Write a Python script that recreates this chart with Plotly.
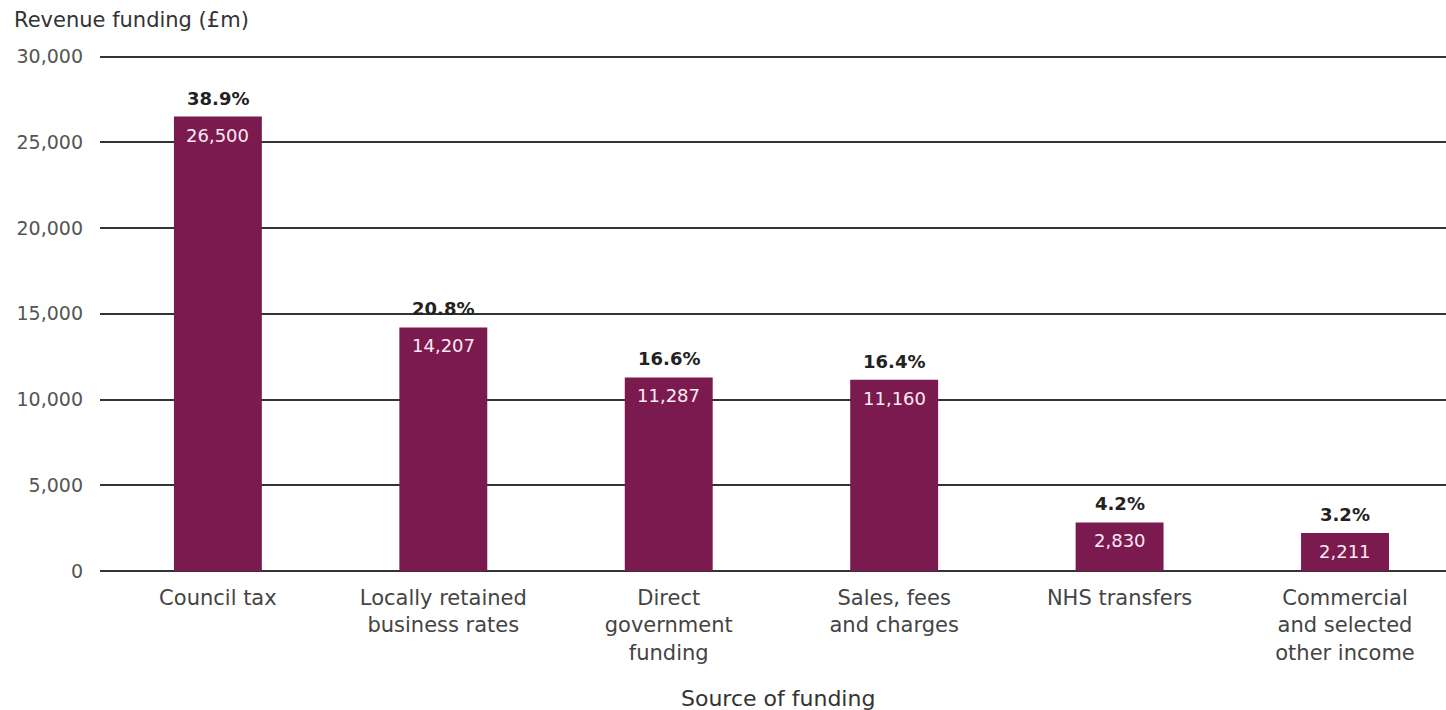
import plotly.graph_objects as go

categories = ["Council tax", "Locally retained<br>business rates", "Direct<br>government<br>funding",
              "Sales, fees<br>and charges", "NHS transfers", "Commercial<br>and selected<br>other income"]
values = [26500, 14207, 11287, 11160, 2830, 2211]
value_labels = ["26,500", "14,207", "11,287", "11,160", "2,830", "2,211"]
pct_labels = ["38.9%", "20.8%", "16.6%", "16.4%", "4.2%", "3.2%"]
y_ticks = [0, 5000, 10000, 15000, 20000, 25000, 30000]
y_tick_text = ["0", "5,000", "10,000", "15,000", "20,000", "25,000", "30,000"]

FONT = "DejaVu Sans, Verdana, sans-serif"
BAR = "#7b1a4e"

fig = go.Figure()
fig.add_trace(go.Bar(x=categories, y=values, marker_color=BAR, marker_line_width=0,
                     width=0.39, hoverinfo="skip"))

ann = []
for c, v, vl, pl in zip(categories, values, value_labels, pct_labels):
    ann.append(dict(x=c, y=v, text="<b>" + pl + "</b>", showarrow=False, yanchor="bottom", yshift=6,
                    font=dict(family=FONT, size=18, color="#222222"), xref="x", yref="y"))
    ann.append(dict(x=c, y=v, text=vl, showarrow=False, yanchor="top", yshift=-6,
                    font=dict(family=FONT, size=18, color="#fbeaf3"), xref="x", yref="y"))
ann.append(dict(text="Revenue funding (£m)", xref="paper", yref="paper", x=0, y=1,
                xanchor="left", yanchor="middle", xshift=-88, yshift=34, showarrow=False,
                font=dict(family=FONT, size=21, color="#333333")))
ann.append(dict(text="Source of funding", xref="paper", yref="paper", x=0.504, y=0,
                xanchor="center", yanchor="middle", yshift=-127, showarrow=False,
                font=dict(family=FONT, size=22, color="#333333")))

fig.update_layout(
    width=1446, height=710,
    margin=dict(l=100, r=0, t=54, b=139),
    plot_bgcolor="white", paper_bgcolor="white",
    showlegend=False,
    annotations=ann,
    font=dict(family=FONT),
)
fig.update_xaxes(type="category", range=[-0.523, 5.448], showline=False, showgrid=False,
                 ticks="", tickfont=dict(family=FONT, size=21, color="#444444"),
                 ticklabelstandoff=12)
fig.update_yaxes(range=[0, 30150], tickvals=y_ticks, ticktext=y_tick_text,
                 showgrid=True, gridcolor="#333333", gridwidth=1.6,
                 zeroline=True, zerolinecolor="#333333", zerolinewidth=1.6,
                 showline=False, ticks="", ticklabelstandoff=16,
                 tickfont=dict(family=FONT, size=19, color="#555555"))

fig.write_html("out.html")
